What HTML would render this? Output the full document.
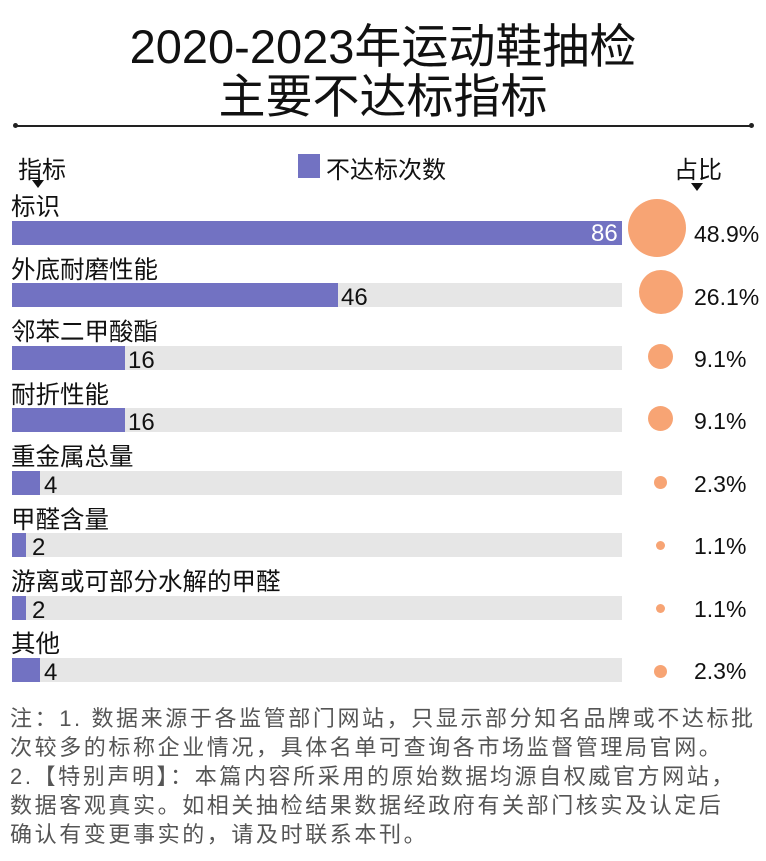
<!DOCTYPE html>
<html><head><meta charset="utf-8"><style>
body{margin:0;width:766px;height:861px;background:#fff;position:relative;overflow:hidden;font-family:"Liberation Sans","Noto Sans CJK SC",sans-serif;color:#111}
.a{position:absolute;white-space:nowrap}
.t{font-size:47px;left:0;width:766px;text-align:center;color:#111}
.lab{font-size:24.5px;left:11px}
.bg{position:absolute;left:12px;width:610px;height:24px;background:#e6e6e6}
.bar{position:absolute;left:12px;height:24px;background:#7272c2}
.num{font-size:24px}
.dot{position:absolute;background:#f7a474;border-radius:50%}
.pct{font-size:23px;left:694px}
.n{font-size:22px;left:10px;color:#555;letter-spacing:2.6px}
</style></head><body>
<div class="a t" style="top:8px">2020-2023年运动鞋抽检</div>
<div class="a t" style="top:58px">主要不达标指标</div>
<div style="position:absolute;left:15px;top:125px;width:737px;height:2px;background:#222"></div>
<div style="position:absolute;left:13px;top:123px;width:5px;height:5px;border-radius:50%;background:#222"></div>
<div style="position:absolute;left:749px;top:123px;width:5px;height:5px;border-radius:50%;background:#222"></div>
<div class="a" style="font-size:24px;left:18px;top:150px">指标</div>
<div class="a" style="left:32px;top:180px;width:0;height:0;border-left:6px solid transparent;border-right:6px solid transparent;border-top:8px solid #111"></div>
<div style="position:absolute;left:298px;top:154px;width:22px;height:24px;background:#7272c2"></div>
<div class="a" style="font-size:24px;left:326px;top:150px">不达标次数</div>
<div class="a" style="font-size:24px;left:674px;top:150px">占比</div>
<div class="a" style="left:691px;top:183px;width:0;height:0;border-left:6px solid transparent;border-right:6px solid transparent;border-top:8px solid #111"></div>

<div class="a lab" style="top:188px">标识</div>
<div class="bg" style="top:221px"></div><div class="bar" style="top:221px;width:610px"></div>
<div class="a num" style="left:591px;top:220px;color:#fff">86</div>
<div class="dot" style="left:628px;top:199px;width:58px;height:58px"></div>
<div class="a pct" style="top:221px">48.9%</div>

<div class="a lab" style="top:251px">外底耐磨性能</div>
<div class="bg" style="top:283px"></div><div class="bar" style="top:283px;width:326px"></div>
<div class="a num" style="left:341px;top:284px">46</div>
<div class="dot" style="left:639px;top:270px;width:44px;height:44px"></div>
<div class="a pct" style="top:284px">26.1%</div>

<div class="a lab" style="top:313px">邻苯二甲酸酯</div>
<div class="bg" style="top:346px"></div><div class="bar" style="top:346px;width:113px"></div>
<div class="a num" style="left:128px;top:347px">16</div>
<div class="dot" style="left:648px;top:344px;width:25px;height:25px"></div>
<div class="a pct" style="top:346px">9.1%</div>

<div class="a lab" style="top:376px">耐折性能</div>
<div class="bg" style="top:408px"></div><div class="bar" style="top:408px;width:113px"></div>
<div class="a num" style="left:128px;top:409px">16</div>
<div class="dot" style="left:648px;top:406px;width:25px;height:25px"></div>
<div class="a pct" style="top:408px">9.1%</div>

<div class="a lab" style="top:438px">重金属总量</div>
<div class="bg" style="top:471px"></div><div class="bar" style="top:471px;width:28px"></div>
<div class="a num" style="left:44px;top:472px">4</div>
<div class="dot" style="left:654px;top:476px;width:13px;height:13px"></div>
<div class="a pct" style="top:471px">2.3%</div>

<div class="a lab" style="top:501px">甲醛含量</div>
<div class="bg" style="top:533px"></div><div class="bar" style="top:533px;width:14px"></div>
<div class="a num" style="left:32px;top:534px">2</div>
<div class="dot" style="left:656px;top:541px;width:9px;height:9px"></div>
<div class="a pct" style="top:533px">1.1%</div>

<div class="a lab" style="top:563px">游离或可部分水解的甲醛</div>
<div class="bg" style="top:596px"></div><div class="bar" style="top:596px;width:14px"></div>
<div class="a num" style="left:32px;top:597px">2</div>
<div class="dot" style="left:656px;top:604px;width:9px;height:9px"></div>
<div class="a pct" style="top:596px">1.1%</div>

<div class="a lab" style="top:625px">其他</div>
<div class="bg" style="top:658px"></div><div class="bar" style="top:658px;width:28px"></div>
<div class="a num" style="left:44px;top:659px">4</div>
<div class="dot" style="left:654px;top:665px;width:13px;height:13px"></div>
<div class="a pct" style="top:658px">2.3%</div>

<div class="a n" style="top:701px">注：1. 数据来源于各监管部门网站，只显示部分知名品牌或不达标批</div>
<div class="a n" style="top:730px">次较多的标称企业情况，具体名单可查询各市场监督管理局官网。</div>
<div class="a n" style="top:759px">2.【特别声明】：本篇内容所采用的原始数据均源自权威官方网站，</div>
<div class="a n" style="top:788px">数据客观真实。如相关抽检结果数据经政府有关部门核实及认定后</div>
<div class="a n" style="top:817px">确认有变更事实的，请及时联系本刊。</div>
</body></html>
